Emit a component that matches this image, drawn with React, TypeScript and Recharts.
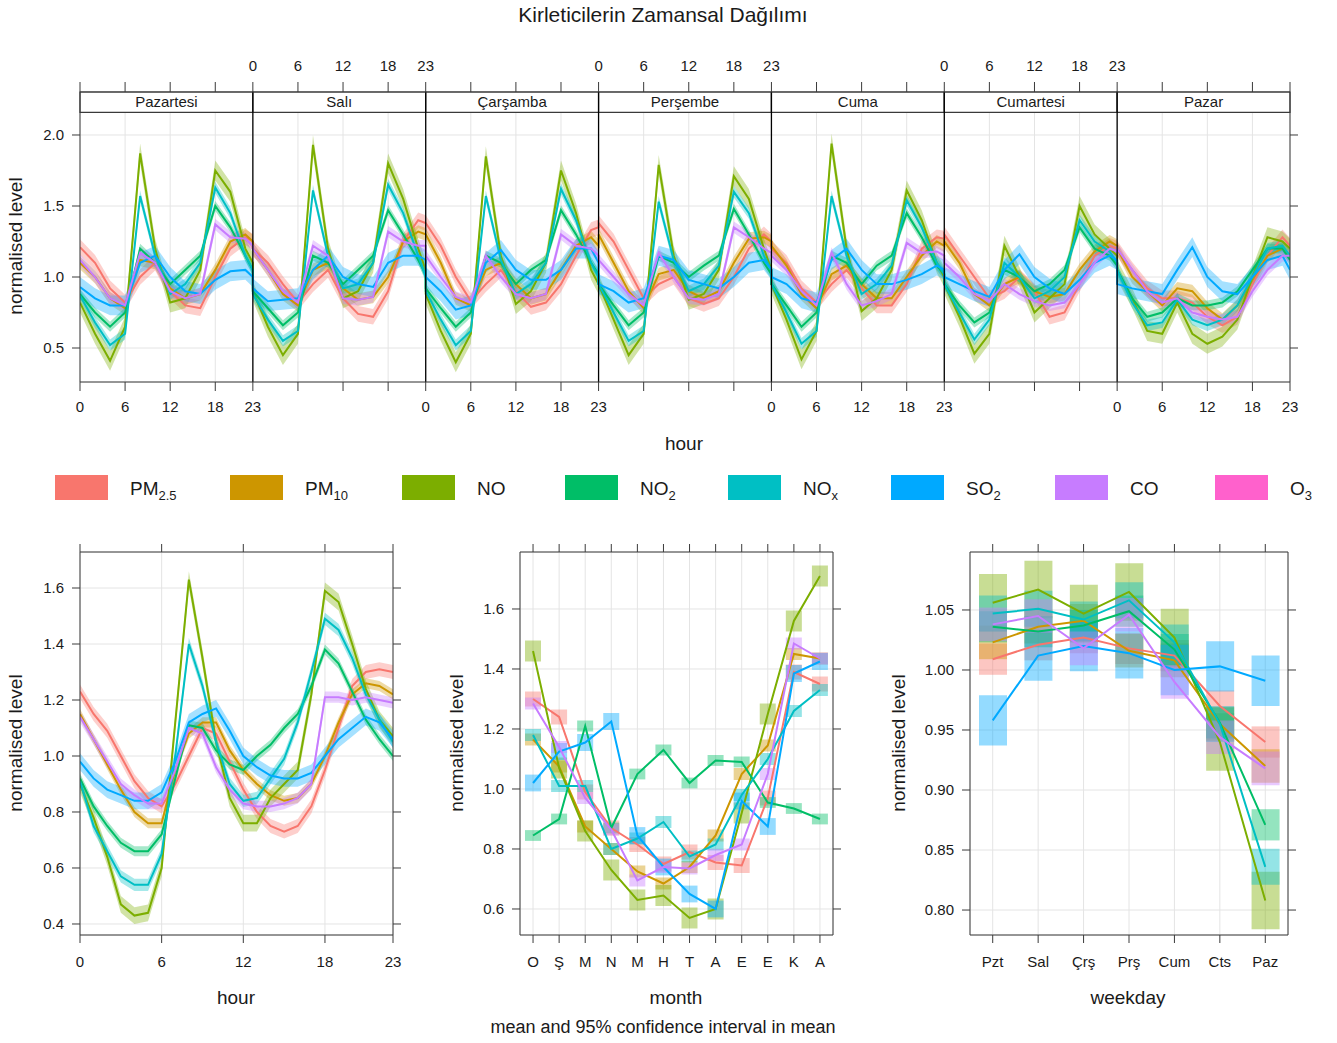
import React from "react";
import {
  ComposedChart,
  Line,
  Area,
  Bar,
  XAxis,
  YAxis,
  CartesianGrid,
  ReferenceLine,
  ReferenceArea,
} from "recharts";

// pollutants drawn in the panels (O3 only shows up in the legend)
const pollutantIds = ["pm25", "pm10", "no", "no2", "nox", "so2", "co"];
const pollutantColors = ["#F8766D", "#CD9600", "#7CAE00", "#00BE67", "#00BFC4", "#00A9FF", "#C77CFF"];

const legendItems = [
  { base: "PM", sub: "2.5", color: "#F8766D" },
  { base: "PM", sub: "10", color: "#CD9600" },
  { base: "NO", sub: "", color: "#7CAE00" },
  { base: "NO", sub: "2", color: "#00BE67" },
  { base: "NO", sub: "x", color: "#00BFC4" },
  { base: "SO", sub: "2", color: "#00A9FF" },
  { base: "CO", sub: "", color: "#C77CFF" },
  { base: "O", sub: "3", color: "#FF61CC" },
];

const dayNames = ["Pazartesi", "Salı", "Çarşamba", "Perşembe", "Cuma", "Cumartesi", "Pazar"];
const weekHours = [0, 2, 4, 6, 8, 10, 12, 14, 16, 18, 20, 22, 23];

// day x hour (weekHours) means
const pm25Week = [
  [1.21, 1.1, 0.92, 0.82, 1.0, 1.1, 0.9, 0.8, 0.78, 1.0, 1.2, 1.28, 1.25],
  [1.2, 1.1, 0.95, 0.82, 0.95, 1.05, 0.85, 0.74, 0.72, 0.9, 1.25, 1.4, 1.38],
  [1.38, 1.22, 1.0, 0.83, 0.95, 1.05, 0.9, 0.79, 0.82, 0.95, 1.15, 1.33, 1.35],
  [1.38, 1.25, 1.05, 0.85, 0.95, 1.0, 0.85, 0.81, 0.85, 1.0, 1.2, 1.3, 1.25],
  [1.2, 1.1, 0.92, 0.82, 0.95, 1.05, 0.92, 0.8, 0.8, 0.95, 1.2, 1.28, 1.27],
  [1.3, 1.15, 1.0, 0.85, 0.9, 1.0, 0.9, 0.72, 0.75, 0.95, 1.15, 1.22, 1.2],
  [1.2, 1.05, 0.92, 0.85, 0.85, 0.82, 0.72, 0.66, 0.72, 0.95, 1.15, 1.28, 1.22],
];
const pm10Week = [
  [1.1, 1.0, 0.85, 0.78, 1.12, 1.1, 0.92, 0.85, 0.88, 1.05, 1.25, 1.3, 1.25],
  [1.2, 1.05, 0.88, 0.8, 1.05, 1.1, 0.92, 0.84, 0.86, 1.0, 1.25, 1.32, 1.3],
  [1.3, 1.1, 0.85, 0.8, 1.05, 1.1, 0.95, 0.85, 0.88, 1.05, 1.22, 1.28, 1.22],
  [1.3, 1.1, 0.9, 0.78, 1.02, 1.05, 0.9, 0.85, 0.9, 1.1, 1.27, 1.28, 1.25],
  [1.22, 1.08, 0.88, 0.78, 1.02, 1.08, 0.95, 0.85, 0.85, 1.0, 1.15, 1.25, 1.22],
  [1.25, 1.1, 0.88, 0.8, 0.95, 1.0, 0.9, 0.86, 0.88, 1.05, 1.18, 1.25, 1.22],
  [1.2, 1.0, 0.9, 0.8, 0.92, 0.9, 0.78, 0.7, 0.8, 0.98, 1.15, 1.2, 1.15],
];
const noWeek = [
  [0.82, 0.6, 0.41, 0.65, 1.87, 1.2, 0.82, 0.85, 1.05, 1.75, 1.6, 1.2, 1.1],
  [0.9, 0.65, 0.45, 0.6, 1.93, 1.2, 0.85, 0.9, 1.1, 1.8, 1.55, 1.2, 1.05],
  [0.88, 0.62, 0.4, 0.6, 1.85, 1.15, 0.81, 0.9, 1.1, 1.75, 1.45, 1.05, 0.95],
  [0.95, 0.7, 0.45, 0.6, 1.79, 1.15, 0.84, 0.88, 1.05, 1.71, 1.55, 1.2, 1.05],
  [0.95, 0.7, 0.42, 0.62, 1.94, 1.2, 0.76, 0.85, 1.05, 1.61, 1.4, 1.1, 1.0],
  [0.95, 0.72, 0.46, 0.6, 1.22, 1.0, 0.75, 0.85, 0.95, 1.5, 1.3, 1.2, 1.15],
  [1.05, 0.85, 0.62, 0.6, 0.82, 0.6, 0.53, 0.58, 0.7, 1.0, 1.28, 1.25, 1.2],
];
const no2Week = [
  [0.88, 0.75, 0.65, 0.75, 1.2, 1.1, 0.95, 1.05, 1.15, 1.5, 1.35, 1.15, 1.05],
  [0.9, 0.78, 0.66, 0.75, 1.15, 1.1, 0.95, 1.05, 1.15, 1.47, 1.3, 1.12, 1.02],
  [0.92, 0.78, 0.65, 0.75, 1.15, 1.1, 0.95, 1.05, 1.12, 1.47, 1.3, 1.1, 1.02],
  [0.95, 0.8, 0.66, 0.75, 1.15, 1.1, 1.0, 1.08, 1.15, 1.48, 1.3, 1.1, 1.02],
  [0.95, 0.8, 0.65, 0.75, 1.15, 1.1, 0.95, 1.08, 1.15, 1.45, 1.28, 1.08, 1.02],
  [0.95, 0.8, 0.68, 0.75, 1.05, 1.0, 0.9, 0.95, 1.05, 1.35, 1.2, 1.15, 1.08],
  [1.05, 0.85, 0.72, 0.75, 0.85, 0.8, 0.8, 0.82, 0.9, 1.05, 1.2, 1.2, 1.12],
];
const noxWeek = [
  [0.87, 0.68, 0.52, 0.6, 1.57, 1.15, 0.88, 0.95, 1.1, 1.63, 1.45, 1.15, 1.05],
  [0.88, 0.7, 0.55, 0.62, 1.61, 1.15, 0.92, 0.95, 1.1, 1.65, 1.45, 1.15, 1.0],
  [0.9, 0.7, 0.52, 0.62, 1.57, 1.12, 0.88, 0.95, 1.1, 1.62, 1.4, 1.1, 1.0],
  [0.95, 0.75, 0.55, 0.62, 1.53, 1.12, 0.9, 0.95, 1.08, 1.6, 1.45, 1.15, 1.05],
  [0.95, 0.75, 0.53, 0.62, 1.57, 1.15, 0.88, 0.95, 1.08, 1.54, 1.35, 1.1, 1.02],
  [0.95, 0.75, 0.56, 0.7, 1.1, 1.0, 0.85, 0.9, 1.0, 1.4, 1.25, 1.18, 1.1],
  [1.05, 0.82, 0.66, 0.68, 0.84, 0.7, 0.66, 0.7, 0.8, 1.0, 1.2, 1.22, 1.15],
];
const so2Week = [
  [0.93, 0.85, 0.8, 0.8, 1.1, 1.15, 1.0, 0.9, 0.88, 0.98, 1.04, 1.05, 1.0],
  [0.92, 0.83, 0.84, 0.85, 1.05, 1.15, 1.0, 0.95, 0.93, 1.1, 1.15, 1.15, 1.12],
  [1.0, 0.9, 0.77, 0.8, 1.1, 1.19, 1.05, 0.98, 0.98, 1.05, 1.2, 1.2, 1.1],
  [0.95, 0.9, 0.82, 0.85, 1.15, 1.12, 0.98, 0.95, 0.92, 1.0, 1.1, 1.12, 1.05],
  [1.0, 0.95, 0.85, 0.82, 1.12, 1.2, 1.05, 0.95, 0.95, 0.98, 1.02, 1.08, 1.05],
  [1.0, 0.95, 0.9, 0.86, 1.05, 1.16, 1.0, 0.92, 0.88, 0.98, 1.1, 1.15, 1.12],
  [0.95, 0.92, 0.9, 0.88, 1.05, 1.21, 1.0, 0.9, 0.88, 1.0, 1.12, 1.15, 1.05],
];
const coWeek = [
  [1.12, 1.0, 0.85, 0.8, 1.17, 1.1, 0.9, 0.85, 0.88, 1.37, 1.28, 1.27, 1.22],
  [1.2, 1.05, 0.9, 0.82, 1.22, 1.15, 0.85, 0.84, 0.86, 1.32, 1.25, 1.22, 1.22],
  [1.15, 1.0, 0.86, 0.82, 1.15, 1.0, 0.88, 0.85, 0.88, 1.3, 1.22, 1.2, 1.15],
  [1.12, 1.0, 0.88, 0.8, 1.17, 1.0, 0.85, 0.84, 0.88, 1.35, 1.28, 1.2, 1.17],
  [1.15, 1.05, 0.9, 0.8, 1.17, 0.95, 0.8, 0.83, 0.88, 1.24, 1.17, 1.18, 1.15],
  [1.1, 1.0, 0.88, 0.83, 0.95, 0.88, 0.83, 0.8, 0.82, 0.95, 1.1, 1.2, 1.18],
  [1.2, 1.05, 0.9, 0.82, 0.85, 0.75, 0.72, 0.7, 0.72, 0.9, 1.05, 1.15, 1.15],
];
const weekValues = [pm25Week, pm10Week, noWeek, no2Week, noxWeek, so2Week, coWeek];
const ciWeek = [0.055, 0.045, 0.07, 0.035, 0.04, 0.07, 0.04];

// hour of day
const hours = [0, 1, 2, 3, 4, 5, 6, 7, 8, 9, 10, 11, 12, 13, 14, 15, 16, 17, 18, 19, 20, 21, 22, 23];
const hourPm25 = [1.23, 1.15, 1.09, 1.0, 0.91, 0.85, 0.82, 0.9, 1.0, 1.1, 1.08, 0.98, 0.88, 0.8, 0.75, 0.73, 0.75, 0.82, 0.95, 1.1, 1.25, 1.3, 1.31, 1.3];
const hourPm10 = [1.15, 1.06, 0.97, 0.88, 0.8, 0.76, 0.76, 0.95, 1.08, 1.12, 1.12, 1.02, 0.95, 0.9, 0.86, 0.84, 0.85, 0.9, 1.0, 1.12, 1.22, 1.26, 1.25, 1.22];
const hourNo = [0.9, 0.78, 0.64, 0.47, 0.43, 0.44, 0.6, 1.12, 1.63, 1.35, 1.05, 0.85, 0.76, 0.76, 0.85, 0.9, 0.95, 1.22, 1.59, 1.55, 1.4, 1.24, 1.13, 1.07];
const hourNo2 = [0.92, 0.82, 0.75, 0.69, 0.66, 0.66, 0.72, 0.92, 1.11, 1.1, 1.02, 0.97, 0.95, 1.0, 1.04, 1.1, 1.15, 1.25, 1.38, 1.33, 1.23, 1.13, 1.06, 1.0];
const hourNox = [0.91, 0.75, 0.66, 0.57, 0.54, 0.54, 0.65, 1.0, 1.4, 1.25, 1.05, 0.9, 0.84, 0.85, 0.92, 0.99, 1.12, 1.3, 1.49, 1.45, 1.35, 1.22, 1.13, 1.05];
const hourSo2 = [0.98, 0.92, 0.88, 0.86, 0.84, 0.84, 0.87, 0.98, 1.12, 1.15, 1.17, 1.09, 1.0, 0.96, 0.93, 0.92, 0.92, 0.94, 1.0, 1.06, 1.1, 1.14, 1.12, 1.06];
const hourCo = [1.14, 1.06, 0.98, 0.9, 0.86, 0.83, 0.83, 0.95, 1.1, 1.08, 0.96, 0.88, 0.83, 0.82, 0.82, 0.83, 0.85, 0.9, 1.21, 1.21, 1.2, 1.21, 1.2, 1.19];
const hourValues = [hourPm25, hourPm10, hourNo, hourNo2, hourNox, hourSo2, hourCo];
const ciHour = [0.025, 0.018, 0.03, 0.018, 0.022, 0.03, 0.02];

// month
const months = ["O", "Ş", "M", "N", "M", "H", "T", "A", "E", "E", "K", "A"];
const monthPm25 = [1.3, 1.24, 0.99, 0.87, 0.815, 0.75, 0.79, 0.755, 0.745, 0.97, 1.39, 1.35];
const monthPm10 = [1.165, 1.075, 0.875, 0.8, 0.725, 0.685, 0.74, 0.845, 1.05, 1.145, 1.45, 1.435];
const monthNo = [1.46, 1.07, 0.86, 0.73, 0.63, 0.645, 0.57, 0.6, 0.92, 1.25, 1.56, 1.71];
const monthNo2 = [0.845, 0.9, 1.21, 0.87, 1.05, 1.13, 1.02, 1.095, 1.09, 0.955, 0.935, 0.9];
const monthNox = [1.18, 1.01, 1.01, 0.8, 0.835, 0.89, 0.775, 0.815, 0.98, 1.1, 1.26, 1.33];
const monthSo2 = [1.02, 1.125, 1.155, 1.225, 0.845, 0.74, 0.65, 0.6, 0.96, 0.875, 1.385, 1.425];
const monthCo = [1.285, 1.14, 0.97, 0.865, 0.695, 0.74, 0.735, 0.78, 0.815, 1.05, 1.485, 1.435];
const monthValues = [monthPm25, monthPm10, monthNo, monthNo2, monthNox, monthSo2, monthCo];
const ciMonth = [0.025, 0.02, 0.035, 0.018, 0.02, 0.028, 0.02];

// weekday
const weekdays = ["Pzt", "Sal", "Çrş", "Prş", "Cum", "Cts", "Paz"];
const dayPm25 = [1.009, 1.021, 1.027, 1.018, 1.012, 0.97, 0.94];
const dayPm10 = [1.023, 1.036, 1.041, 1.016, 1.008, 0.955, 0.92];
const dayNo = [1.056, 1.067, 1.047, 1.065, 1.027, 0.94, 0.808];
const dayNo2 = [1.036, 1.032, 1.037, 1.049, 1.017, 0.956, 0.871];
const dayNox = [1.047, 1.051, 1.042, 1.058, 1.023, 0.955, 0.836];
const daySo2 = [0.958, 1.012, 1.02, 1.014, 1.0, 1.003, 0.991];
const dayCo = [1.038, 1.045, 1.018, 1.046, 0.99, 0.944, 0.918];
const dayValues = [dayPm25, dayPm10, dayNo, dayNo2, dayNox, daySo2, dayCo];
const ciDay = [0.013, 0.014, 0.024, 0.013, 0.015, 0.021, 0.014];

const FONT = '"Liberation Sans", Arial, sans-serif';
const FRAME = "#3a3a3a";
const GRID = "#e4e4e4";
const tickStyle = { fill: "#1a1a1a", fontSize: 15 };
const blank = () => "";

function buildRows(labels: any[], values: number[][], ci: number[]) {
  return labels.map((lab, i) => {
    const row: any = { label: lab, idx: i };
    pollutantIds.forEach((id, s) => {
      const v = values[s][i];
      row[id] = v;
      row[id + "_ci"] = [v - ci[s], v + ci[s]];
    });
    return row;
  });
}

const weekRows: any[] = [];
dayNames.forEach((_, d) => {
  weekHours.forEach((h, i) => {
    const row: any = { x: d * 23 + h };
    pollutantIds.forEach((id, s) => {
      const v = weekValues[s][d][i];
      row[id] = v;
      row[id + "_ci"] = [v - ciWeek[s], v + ciWeek[s]];
    });
    weekRows.push(row);
  });
});

const weekTicks: number[] = [];
dayNames.forEach((_, k) => {
  [0, 6, 12, 18, 23].forEach((h) => {
    const t = k * 23 + h;
    if (!weekTicks.includes(t)) weekTicks.push(t);
  });
});

// lattice style: alternate panels carry labels below / above
const panelLabel = (v: number, first: number) => {
  for (let k = first; k < 7; k += 2) {
    const h = v - 23 * k;
    if (h >= 0 && h <= 23) return String(h);
  }
  return "";
};

const hourRows = buildRows(hours, hourValues, ciHour);
const monthRows = buildRows(months, monthValues, ciMonth);
const dayRows = buildRows(weekdays, dayValues, ciDay);

function WeekChart() {
  return (
    <ComposedChart width={1337} height={420} data={weekRows} margin={{ top: 62, right: 27, bottom: 8, left: 20 }}>
      <CartesianGrid xAxisId="b" yAxisId="l" stroke={GRID} />
      <XAxis xAxisId="b" type="number" dataKey="x" domain={[0, 161]} ticks={weekTicks} interval={0}
        allowDataOverflow tickFormatter={(v) => panelLabel(v, 0)} tickSize={9} tickMargin={10}
        stroke={FRAME} tick={tickStyle} height={30} />
      <XAxis xAxisId="t" orientation="top" type="number" dataKey="x" domain={[0, 161]} ticks={weekTicks}
        interval={0} allowDataOverflow tickFormatter={(v) => panelLabel(v, 1)} tickSize={10} tickMargin={11}
        stroke={FRAME} tick={tickStyle} height={30} />
      <YAxis yAxisId="l" domain={[0.2606, 2.3028]} ticks={[0.5, 1, 1.5, 2]} allowDataOverflow
        tickFormatter={(v) => v.toFixed(1)} width={60} tickSize={8} tickMargin={8} stroke={FRAME} tick={tickStyle} />
      <YAxis yAxisId="r" orientation="right" domain={[0.2606, 2.3028]} ticks={[0.5, 1, 1.5, 2]} allowDataOverflow
        tickFormatter={blank} width={20} tickSize={8} stroke={FRAME} />
      {dayNames.map((name, k) => (
        <ReferenceArea key={name} xAxisId="b" yAxisId="l" x1={k * 23} x2={k * 23 + 23} y1={2.16} y2={2.3028}
          fill="#ffffff" fillOpacity={1} stroke={FRAME} strokeWidth={1.2}
          label={{ value: name, position: "center", fill: "#1a1a1a", fontSize: 15 }} />
      ))}
      {pollutantIds.map((id, s) => (
        <Area key={id + "a"} xAxisId="b" yAxisId="l" type="linear" dataKey={id + "_ci"} stroke="none"
          fill={pollutantColors[s]} fillOpacity={0.35} isAnimationActive={false} />
      ))}
      {pollutantIds.map((id, s) => (
        <Line key={id} xAxisId="b" yAxisId="l" type="linear" dataKey={id} stroke={pollutantColors[s]}
          strokeWidth={2} dot={false} isAnimationActive={false} />
      ))}
      {dayNames.slice(1).map((name, k) => (
        <ReferenceLine key={name + "sep"} xAxisId="b" yAxisId="l" x={(k + 1) * 23} stroke="#000" strokeWidth={1.3} />
      ))}
    </ComposedChart>
  );
}

function HourChart() {
  const ticks = [0, 6, 12, 18, 23];
  return (
    <ComposedChart width={420} height={500} data={hourRows} margin={{ top: 22, right: 7, bottom: 35, left: 20 }}>
      <CartesianGrid xAxisId="main" yAxisId="l" stroke={GRID} />
      <XAxis xAxisId="main" type="number" dataKey="label" domain={[0, 23]} ticks={ticks} interval={0} allowDataOverflow
        tickSize={8} tickMargin={13} stroke={FRAME} tick={tickStyle} height={30} />
      <XAxis xAxisId="top" orientation="top" type="number" dataKey="label" domain={[0, 23]} ticks={ticks} interval={0}
        allowDataOverflow tickFormatter={blank} tickSize={8} stroke={FRAME} height={30} />
      <YAxis yAxisId="l" domain={[0.3607, 1.7286]} ticks={[0.4, 0.6, 0.8, 1.0, 1.2, 1.4, 1.6]} allowDataOverflow
        tickFormatter={(v) => v.toFixed(1)} width={60} tickSize={8} tickMargin={8} stroke={FRAME} tick={tickStyle} />
      <YAxis yAxisId="r" orientation="right" domain={[0.3607, 1.7286]} ticks={[0.4, 0.6, 0.8, 1.0, 1.2, 1.4, 1.6]}
        allowDataOverflow tickFormatter={blank} width={20} tickSize={8} stroke={FRAME} />
      {pollutantIds.map((id, s) => (
        <Area key={id + "a"} xAxisId="main" yAxisId="l" type="linear" dataKey={id + "_ci"} stroke="none"
          fill={pollutantColors[s]} fillOpacity={0.35} isAnimationActive={false} />
      ))}
      {pollutantIds.map((id, s) => (
        <Line key={id} xAxisId="main" yAxisId="l" type="linear" dataKey={id} stroke={pollutantColors[s]}
          strokeWidth={2} dot={false} isAnimationActive={false} />
      ))}
    </ComposedChart>
  );
}

function BoxChart(props: {
  rows: any[]; width: number; left: number; right: number;
  domain: number[]; ticks: number[]; digits: number; barSize: number;
}) {
  const { rows, width, left, right, domain, ticks, digits, barSize } = props;
  const catLabel = (i: any) => (rows[i] ? rows[i].label : "");
  return (
    <ComposedChart width={width} height={500} data={rows} margin={{ top: 22, right, bottom: 35, left }}>
      <CartesianGrid xAxisId="main" yAxisId="l" stroke={GRID} />
      <XAxis xAxisId="main" dataKey="idx" scale="band" interval={0} tickSize={8} tickMargin={13}
        tickFormatter={catLabel} stroke={FRAME} tick={tickStyle} height={30} />
      <XAxis xAxisId="top" orientation="top" dataKey="idx" scale="band" interval={0} tickFormatter={blank}
        tickSize={8} stroke={FRAME} height={30} />
      {pollutantIds.map((id) => (
        <XAxis key={id + "x"} xAxisId={"h" + id} orientation="top" dataKey="idx" scale="band" height={0} hide />
      ))}
      <YAxis yAxisId="l" domain={domain} ticks={ticks} allowDataOverflow tickFormatter={(v) => v.toFixed(digits)}
        width={60} tickSize={8} tickMargin={8} stroke={FRAME} tick={tickStyle} />
      <YAxis yAxisId="r" orientation="right" domain={domain} ticks={ticks} allowDataOverflow tickFormatter={blank}
        width={20} tickSize={8} stroke={FRAME} />
      {pollutantIds.map((id, s) => (
        <Bar key={id + "b"} xAxisId={"h" + id} yAxisId="l" dataKey={id + "_ci"} fill={pollutantColors[s]}
          fillOpacity={0.42} barSize={barSize} isAnimationActive={false} />
      ))}
      {pollutantIds.map((id, s) => (
        <Line key={id} xAxisId="main" yAxisId="l" type="linear" dataKey={id} stroke={pollutantColors[s]}
          strokeWidth={2} dot={false} isAnimationActive={false} />
      ))}
    </ComposedChart>
  );
}

function Overlay() {
  const legendX = [55, 230, 402, 565, 728, 891, 1055, 1215];
  const yLabel = (x: number, y: number, key: string) => (
    <text key={key} x={x} y={y} transform={`rotate(-90 ${x} ${y})`} textAnchor="middle" fontSize={19} fill="#1a1a1a">
      normalised level
    </text>
  );
  return (
    <svg width={1337} height={1043} style={{ position: "absolute", left: 0, top: 0, pointerEvents: "none" }}>
      <text x={663} y={22} textAnchor="middle" fontSize={21} fill="#1a1a1a">Kirleticilerin Zamansal Dağılımı</text>
      {yLabel(22, 246, "yl0")}
      <text x={684} y={450} textAnchor="middle" fontSize={19} fill="#1a1a1a">hour</text>
      {legendItems.map((it, i) => (
        <g key={i}>
          <rect x={legendX[i]} y={475} width={53} height={25} fill={it.color} />
          <text x={legendX[i] + 75} y={495} fontSize={19} fill="#1a1a1a">
            {it.base}
            {it.sub ? <tspan fontSize={13} dy={5}>{it.sub}</tspan> : null}
          </text>
        </g>
      ))}
      {yLabel(22, 743, "yl1")}
      {yLabel(463, 743, "yl2")}
      {yLabel(905, 743, "yl3")}
      <text x={236} y={1004} textAnchor="middle" fontSize={19} fill="#1a1a1a">hour</text>
      <text x={676} y={1004} textAnchor="middle" fontSize={19} fill="#1a1a1a">month</text>
      <text x={1128} y={1004} textAnchor="middle" fontSize={19} fill="#1a1a1a">weekday</text>
      <text x={663} y={1033} textAnchor="middle" fontSize={18} fill="#1a1a1a">mean and 95% confidence interval in mean</text>
    </svg>
  );
}

export default function App() {
  return (
    <div style={{ position: "absolute", left: 0, top: 0, width: 1337, height: 1043, background: "#fff", fontFamily: FONT }}>
      <div style={{ position: "absolute", left: 0, top: 0 }}>
        <WeekChart />
      </div>
      <div style={{ position: "absolute", left: 0, top: 500 }}>
        <HourChart />
      </div>
      <div style={{ position: "absolute", left: 440, top: 500 }}>
        <BoxChart rows={monthRows} width={430} left={20} right={17} domain={[0.5133, 1.79]}
          ticks={[0.6, 0.8, 1.0, 1.2, 1.4, 1.6]} digits={1} barSize={16} />
      </div>
      <div style={{ position: "absolute", left: 880, top: 500 }}>
        <BoxChart rows={dayRows} width={440} left={30} right={12} domain={[0.7792, 1.0983]}
          ticks={[0.8, 0.85, 0.9, 0.95, 1.0, 1.05]} digits={2} barSize={28} />
      </div>
      <Overlay />
    </div>
  );
}
